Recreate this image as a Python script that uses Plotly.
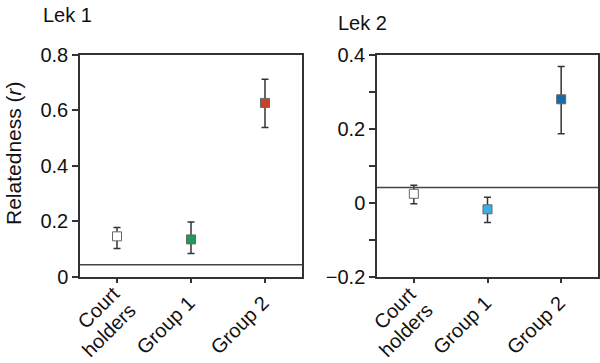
import plotly.graph_objects as go

categories = ["Court holders", "Group 1", "Group 2"]
tick_labels = ["", "Group 1", "Group 2"]
court_label_lines = ["Court", "holders"]

lek1_mean = [0.145, 0.134, 0.627]
lek1_upper = [0.177, 0.197, 0.712]
lek1_lower = [0.101, 0.083, 0.538]
lek1_baseline = 0.042
lek1_colors = ["#ffffff", "#1f9a5c", "#c9432b"]

lek2_mean = [0.024, -0.018, 0.280]
lek2_upper = [0.047, 0.015, 0.369]
lek2_lower = [-0.003, -0.054, 0.187]
lek2_baseline = 0.041
lek2_colors = ["#ffffff", "#3aafe0", "#1a6aa6"]

lek1_yticks = [0, 0.2, 0.4, 0.6, 0.8]
lek1_yticktext = ["0", "0.2", "0.4", "0.6", "0.8"]
lek2_yticks = [-0.2, -0.1, 0, 0.1, 0.2, 0.3, 0.4]
lek2_yticktext = ["\u22120.2", "", "0", "", "0.2", "", "0.4"]

FONT = "Liberation Sans, Arial, sans-serif"
AX = "#333333"
TXT = "#111111"

fig = go.Figure()


def add_panel(mean, upper, lower, colors, xa, ya):
    fig.add_trace(go.Scatter(
        x=list(range(len(categories))), y=mean, mode="markers",
        xaxis=xa, yaxis=ya, showlegend=False,
        marker=dict(symbol="square", size=9, color=colors,
                    line=dict(color="#666666", width=1)),
        error_y=dict(type="data", symmetric=False,
                     array=[u - m for u, m in zip(upper, mean)],
                     arrayminus=[m - l for m, l in zip(mean, lower)],
                     color=AX, thickness=1.5, width=3.5),
    ))


add_panel(lek1_mean, lek1_upper, lek1_lower, lek1_colors, "x", "y")
add_panel(lek2_mean, lek2_upper, lek2_lower, lek2_colors, "x2", "y2")

fig.add_shape(type="line", xref="x domain", yref="y", x0=0, x1=1,
              y0=lek1_baseline, y1=lek1_baseline, line=dict(color="#444444", width=1.5))
fig.add_shape(type="line", xref="x2 domain", yref="y2", x0=0, x1=1,
              y0=lek2_baseline, y1=lek2_baseline, line=dict(color="#444444", width=1.5))

xcommon = dict(range=[-0.5, 2.5], tickmode="array", tickvals=[0, 1, 2],
               ticktext=tick_labels, tickangle=-45, ticks="outside", ticklen=5,
               tickwidth=1.5, tickcolor=AX, showline=True, linecolor=AX, linewidth=1.5,
               mirror=True, showgrid=False, zeroline=False, automargin=False,
               ticklabelshift=-2,
               tickfont=dict(family=FONT, size=20, color=TXT))
ycommon = dict(ticks="outside", ticklen=6, tickwidth=1.5, tickcolor=AX,
               showline=True, linecolor=AX, linewidth=1.5, mirror=True,
               showgrid=False, zeroline=False, tickmode="array", automargin=False,
               tickfont=dict(family=FONT, size=20, color=TXT))

annotations = [
    dict(text="Lek 1", xref="paper", yref="paper", x=41 / 600, y=1 - 15 / 363,
         xanchor="left", yanchor="middle", showarrow=False,
         font=dict(family=FONT, size=20, color=TXT)),
    dict(text="Lek 2", xref="paper", yref="paper", x=336 / 600, y=1 - 23 / 363,
         xanchor="left", yanchor="middle", showarrow=False,
         font=dict(family=FONT, size=20, color=TXT)),
    dict(text="Relatedness (<i>r</i>)", xref="paper", yref="paper",
         x=14 / 600, y=1 - 153 / 363, textangle=-90,
         xanchor="center", yanchor="middle", showarrow=False,
         font=dict(family=FONT, size=21, color=TXT)),
]
# two-line category label for the first category, drawn on each x axis
for xr in ["x", "x2"]:
    for line, xs, ypx in zip(court_label_lines, [-19, -8], [308, 330]):
        annotations.append(dict(
            text=line, xref=xr, yref="paper", x=0, y=1 - ypx / 363, xshift=xs,
            textangle=-45, xanchor="center", yanchor="middle", showarrow=False,
            font=dict(family=FONT, size=20, color=TXT)))

y0d, y1d = 1 - 276.5 / 363, 1 - 55 / 363
fig.update_layout(
    template="none",
    width=600, height=363, margin=dict(l=0, r=0, t=0, b=0, pad=0),
    paper_bgcolor="white", plot_bgcolor="white",
    xaxis=dict(domain=[80 / 600, 302 / 600], anchor="y", **xcommon),
    yaxis=dict(domain=[y0d, y1d], anchor="x", range=[0, 0.8],
               tickvals=lek1_yticks, ticktext=lek1_yticktext, **ycommon),
    xaxis2=dict(domain=[377 / 600, 598 / 600], anchor="y2", **xcommon),
    yaxis2=dict(domain=[y0d, y1d], anchor="x2", range=[-0.2, 0.4],
                tickvals=lek2_yticks, ticktext=lek2_yticktext, **ycommon),
    annotations=annotations,
)

fig.write_html("out.html", config={"displayModeBar": False},
               post_script="document.body.style.margin='0';document.body.style.overflow='hidden';")
